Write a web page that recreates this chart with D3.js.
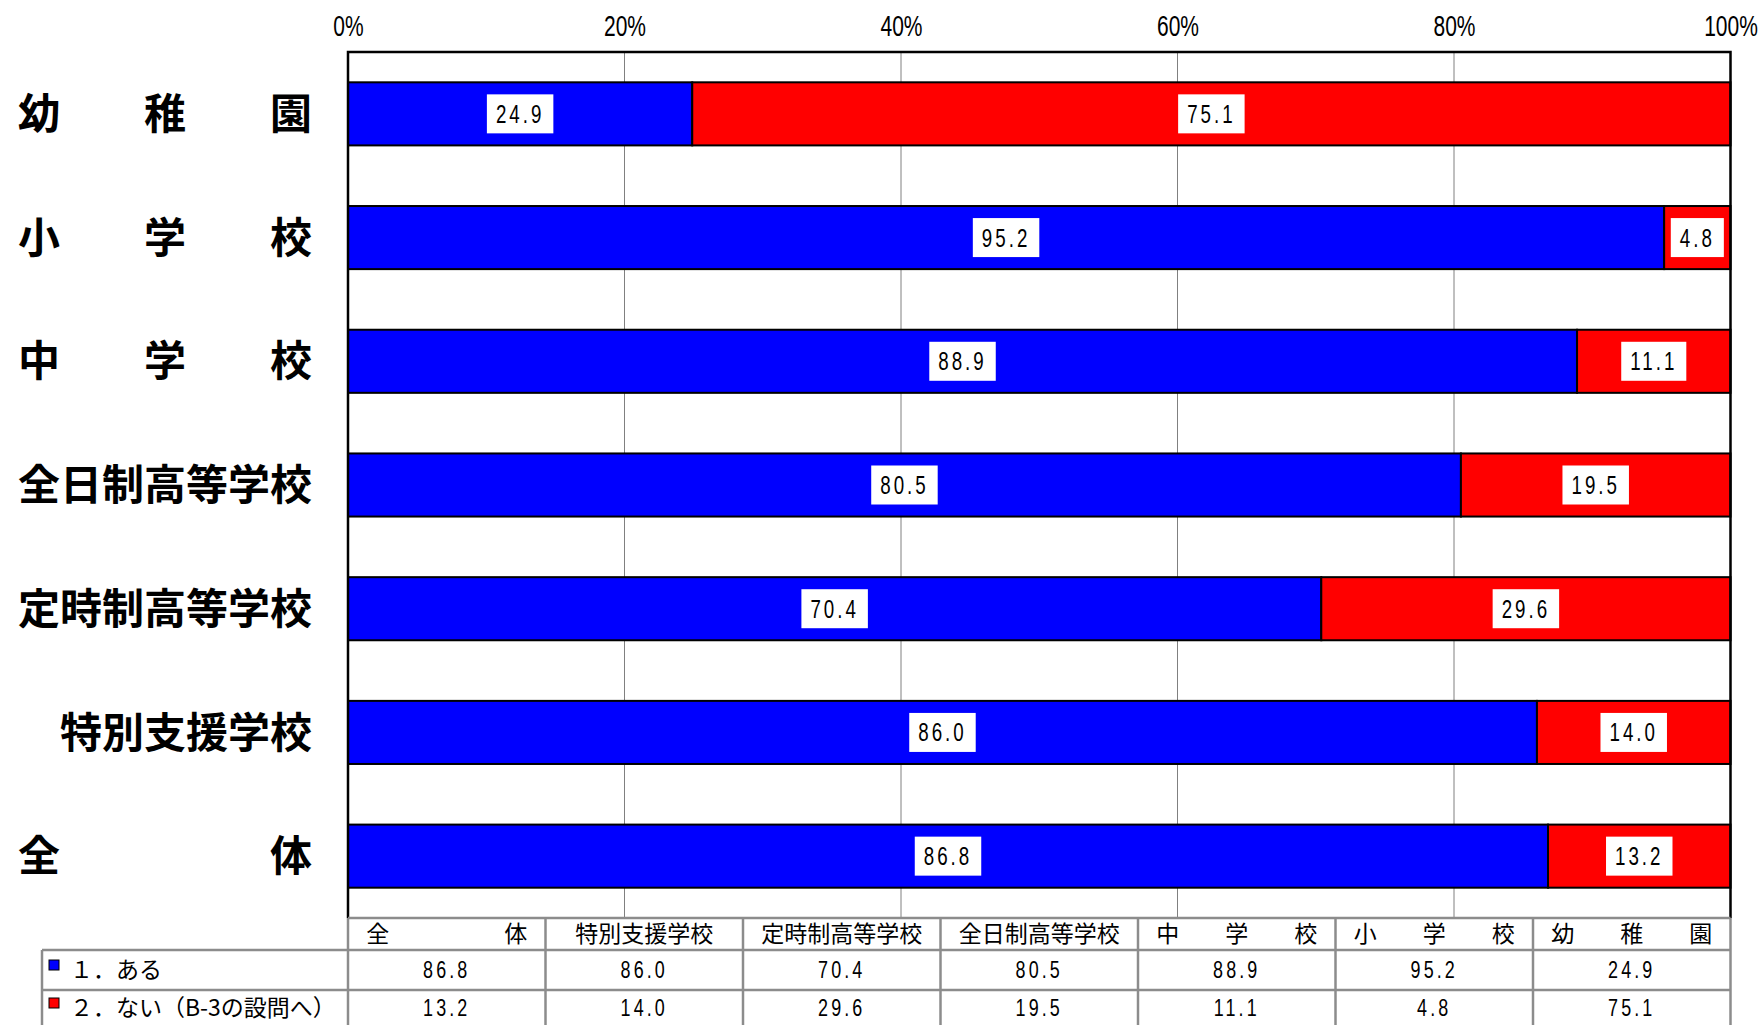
<!DOCTYPE html>
<html><head><meta charset="utf-8">
<script src="https://cdn.jsdelivr.net/npm/d3@7"></script>
<style>body{margin:0;background:#fff}svg{display:block}</style>
</head><body><svg id="c" width="1762" height="1025"></svg>
<script>
// ---- data ----
const categories = ["幼稚園","小学校","中学校","全日制高等学校","定時制高等学校","特別支援学校","全体"];
const categoryLabels = ["幼　　稚　　園","小　　学　　校","中　　学　　校","全日制高等学校","定時制高等学校","特別支援学校","全　　　　　体"];
const seriesNames = ["１．ある","２．ない（B-3の設問へ）"];
const aruValues = [24.9, 95.2, 88.9, 80.5, 70.4, 86.0, 86.8];
const naiValues = [75.1, 4.8, 11.1, 19.5, 29.6, 14.0, 13.2];
const seriesColors = ["#0000ff", "#ff0000"];
const tickValues = [0, 20, 40, 60, 80, 100];
const tickLabels = ["0%", "20%", "40%", "60%", "80%", "100%"];
// table column order (reversed categories)
const tableOrder = [6, 5, 4, 3, 2, 1, 0];

const CJK = "'Noto Sans CJK JP', sans-serif";
const NUM = "'Liberation Sans', Arial, sans-serif";

const svg = d3.select("#c");
const L = 348, R = 1730.5, T = 52, B = 918;

const x = d3.scaleLinear().domain([0, 100]).range([L, R]);
const y = d3.scaleBand().domain(categories).range([T, B]).paddingInner(0.49).paddingOuter(0.245);

// gridlines
svg.append("g").selectAll("line").data(tickValues.slice(1, -1)).join("line")
  .attr("x1", d => x(d)).attr("x2", d => x(d)).attr("y1", T).attr("y2", B)
  .attr("stroke", "#808080").attr("stroke-width", 1);

// top axis labels
const axis = d3.axisTop(x).tickValues(tickValues).tickSize(0).tickFormat((d, i) => tickLabels[i]);
const ag = svg.append("g").attr("transform", `translate(0,${T})`).call(axis);
ag.select(".domain").remove();
ag.selectAll("text").attr("y", -27).attr("dy", "0.36em").attr("transform", "scale(0.7,1)")
  .style("font-family", NUM).style("font-size", "30px").attr("fill", "#000");

// stacked bars
const stackData = categories.map((c, i) => ({ cat: c, aru: aruValues[i], nai: naiValues[i] }));
const stack = d3.stack().keys(["aru", "nai"])(stackData);
const layers = svg.append("g").selectAll("g").data(stack).join("g").attr("fill", (d, i) => seriesColors[i]);
layers.selectAll("rect").data(d => d).join("rect")
  .attr("x", d => x(d[0])).attr("width", d => x(d[1]) - x(d[0]))
  .attr("y", d => y(d.data.cat)).attr("height", y.bandwidth())
  .attr("stroke", "#000").attr("stroke-width", 2);

// frame (left, top, right)
svg.append("path")
  .attr("d", `M${L},${B} V${T} H${R} V${B}`)
  .attr("fill", "none").attr("stroke", "#000").attr("stroke-width", 2.5);

// value labels with white boxes
const fmt = d3.format(".1f");
const SX = 0.75;
stack.forEach(layer => {
  layer.forEach(d => {
    const cx = (x(d[0]) + x(d[1])) / 2, cy = y(d.data.cat) + y.bandwidth() / 2;
    const g = svg.append("g").attr("transform", `translate(${cx},${cy})`);
    const t = g.append("text").attr("x", 0).attr("y", 0).attr("dy", "0.36em")
      .attr("transform", `scale(${SX},1)`)
      .attr("text-anchor", "middle").style("font-family", NUM).style("font-size", "25px")
      .style("letter-spacing", "4px").text(fmt(d[1] - d[0]));
    const w = t.node().getBBox().width * SX;
    g.insert("rect", "text").attr("x", -w / 2 - 9).attr("y", -19.5)
      .attr("width", w + 18).attr("height", 39).attr("fill", "#fff");
  });
});

// category labels
svg.append("g").selectAll("text").data(categories).join("text")
  .attr("x", 312).attr("y", d => y(d) + y.bandwidth() / 2).attr("dy", "0.36em")
  .attr("text-anchor", "end").style("font-family", CJK).style("font-size", "42px")
  .style("font-weight", "bold").text((d, i) => categoryLabels[i]);

// data table
const colW = (R - L) / 7;
const rowTops = [918, 950, 990, 1030];
const tg = svg.append("g");
const gray = "#8c8c8c";
tg.append("line").attr("x1", L).attr("x2", R).attr("y1", rowTops[0]).attr("y2", rowTops[0]).attr("stroke", gray).attr("stroke-width", 2.5);
[1, 2, 3].forEach(k => tg.append("line").attr("x1", 42).attr("x2", R).attr("y1", rowTops[k]).attr("y2", rowTops[k]).attr("stroke", gray).attr("stroke-width", 2.5));
tg.append("line").attr("x1", 42).attr("x2", 42).attr("y1", rowTops[1]).attr("y2", rowTops[3]).attr("stroke", gray).attr("stroke-width", 2.5);
d3.range(8).forEach(k => tg.append("line").attr("x1", L + k * colW).attr("x2", L + k * colW)
  .attr("y1", rowTops[0]).attr("y2", rowTops[3]).attr("stroke", gray).attr("stroke-width", 2.5));

// header
tg.selectAll("text.h").data(tableOrder).join("text").attr("class", "h")
  .attr("x", (d, k) => L + k * colW + colW / 2).attr("y", 934).attr("dy", "0.36em")
  .attr("text-anchor", "middle").style("font-family", CJK).style("font-size", "23px")
  .text(d => categoryLabels[d]);

// rows
[aruValues, naiValues].forEach((vals, r) => {
  const cy = r === 0 ? 970 : 1008;
  tg.append("rect").attr("x", 49).attr("y", cy - 10).attr("width", 10).attr("height", 10)
    .attr("fill", seriesColors[r]).attr("stroke", "#000").attr("stroke-width", 1);
  tg.append("text").attr("x", 70).attr("y", cy).attr("dy", "0.36em")
    .style("font-family", CJK).style("font-size", "23px").text(seriesNames[r]);
  tg.selectAll("g.v" + r).data(tableOrder).join("g").attr("class", "v" + r)
    .attr("transform", (d, k) => `translate(${L + k * colW + colW / 2},${cy})`)
    .append("text").attr("dy", "0.36em").attr("transform", "scale(0.78,1)")
    .attr("text-anchor", "middle").style("font-family", NUM).style("font-size", "23px")
    .style("letter-spacing", "4px").text(d => fmt(vals[d]));
});
</script></body></html>
